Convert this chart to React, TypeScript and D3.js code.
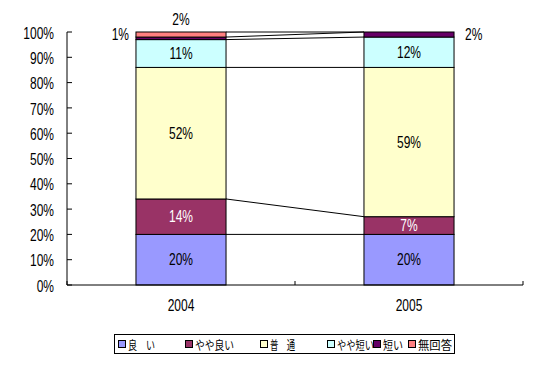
import React from "react";
import * as d3 from "d3";

const years = ["2004", "2005"];
const seriesNames = ["良　い", "やや良い", "普　通", "やや短い", "短い", "無回答"];
const seriesColors = ["#9999FF", "#993366", "#FFFFCC", "#CCFFFF", "#660066", "#FF8080"];
const labelColors = ["#000", "#fff", "#000", "#000", "#000", "#000"];
const values2004 = [20, 14, 52, 11, 1, 2];
const values2005 = [20, 7, 59, 12, 2, 0];
const yTicks = [0, 10, 20, 30, 40, 50, 60, 70, 80, 90, 100];

const W = 550, H = 375;
const left = 67, right = 523, top = 32, bottom = 285;
const FONT = "'Liberation Sans', Arial, sans-serif";
const FS = 16;
const SX = 0.75;

// layout (legend)
const LEGEND_MARK_X = [118, 185, 260, 327, 373, 408];
const LEGEND_TEXT_W = [27, 39, 25, 37, 20, 34];

function T({ x, y, anchor = "middle", fill = "#000", children }: any) {
  return (
    <text transform={`translate(${x},${y}) scale(${SX},1)`} textAnchor={anchor} dominantBaseline="central"
      fontFamily={FONT} fontSize={FS} fill={fill}>{children}</text>
  );
}

export default function App() {
  const x = d3.scaleBand<string>().domain(years).range([left, right]).paddingInner(0.605).paddingOuter(0.3025);
  const y = d3.scaleLinear().domain([0, 100]).range([bottom, top]);
  const data = [values2004, values2005];
  const stacks = data.map((vals) => {
    let acc = 0;
    return vals.map((v) => {
      const s = acc; acc += v;
      return { y0: s, y1: acc, v };
    });
  });
  const bw = x.bandwidth();
  const x0 = x(years[0])!, x1 = x(years[1])!;

  const outside: Record<string, { dx: number; dy: number; anchor: string }> = {
    "0-4": { dx: -7, dy: -4, anchor: "end" },
    "0-5": { dx: 0, dy: -15, anchor: "middle" },
    "1-4": { dx: 11, dy: 0, anchor: "start" },
  };

  return (
    <svg width={W} height={H} style={{ position: "absolute", left: 0, top: 0, background: "#fff" }}>
      {seriesNames.map((_, i) => (
        <line key={"sl" + i} x1={x0 + bw} x2={x1} y1={y(stacks[0][i].y1)} y2={y(stacks[1][i].y1)} stroke="#000" strokeWidth={1} />
      ))}
      {stacks.map((st, bi) =>
        st.map((s, i) =>
          s.v > 0 ? (
            <rect key={`r${bi}-${i}`} x={x(years[bi])!} y={y(s.y1)} width={bw} height={y(s.y0) - y(s.y1)}
              fill={seriesColors[i]} stroke="#000" strokeWidth={1} />
          ) : null
        )
      )}
      {stacks.map((st, bi) =>
        st.map((s, i) => {
          if (s.v <= 0) return null;
          const key = `${bi}-${i}`;
          const cx = x(years[bi])! + bw / 2;
          const cy = (y(s.y0) + y(s.y1)) / 2;
          const o = outside[key];
          if (o) {
            const px = o.anchor === "end" ? x(years[bi])! + o.dx : o.anchor === "start" ? x(years[bi])! + bw + o.dx : cx;
            return <T key={"t" + key} x={px} y={cy + o.dy} anchor={o.anchor}>{s.v}%</T>;
          }
          return <T key={"t" + key} x={cx} y={cy} fill={labelColors[i]}>{s.v}%</T>;
        })
      )}
      <line x1={left} x2={left} y1={top} y2={bottom} stroke="#000" />
      {yTicks.map((t) => (
        <g key={"yt" + t}>
          <line x1={left} x2={left + 5} y1={y(t)} y2={y(t)} stroke="#000" />
          <T x={54} y={y(t) + 1} anchor="end">{t}%</T>
        </g>
      ))}
      <line x1={left} x2={right} y1={bottom} y2={bottom} stroke="#000" />
      {[left, (left + right) / 2, right].map((tx, i) => (
        <line key={"xt" + i} x1={tx} x2={tx} y1={bottom} y2={bottom - 4} stroke="#000" />
      ))}
      {years.map((yr) => (
        <T key={yr} x={x(yr)! + bw / 2} y={305}>{yr}</T>
      ))}
      <rect x={114.5} y={334.5} width={340} height={19} fill="#fff" stroke="#000" />
      {seriesNames.map((n, i) => (
        <g key={"lg" + i}>
          <rect x={LEGEND_MARK_X[i] + 0.5} y={340.5} width={7} height={7} fill={seriesColors[i]} stroke="#000" />
          <text x={LEGEND_MARK_X[i] + 10} y={344.5} dominantBaseline="central" fontFamily="'Noto Sans CJK JP', sans-serif"
            fontSize={12} textLength={LEGEND_TEXT_W[i]} lengthAdjust="spacingAndGlyphs">{n}</text>
        </g>
      ))}
    </svg>
  );
}
